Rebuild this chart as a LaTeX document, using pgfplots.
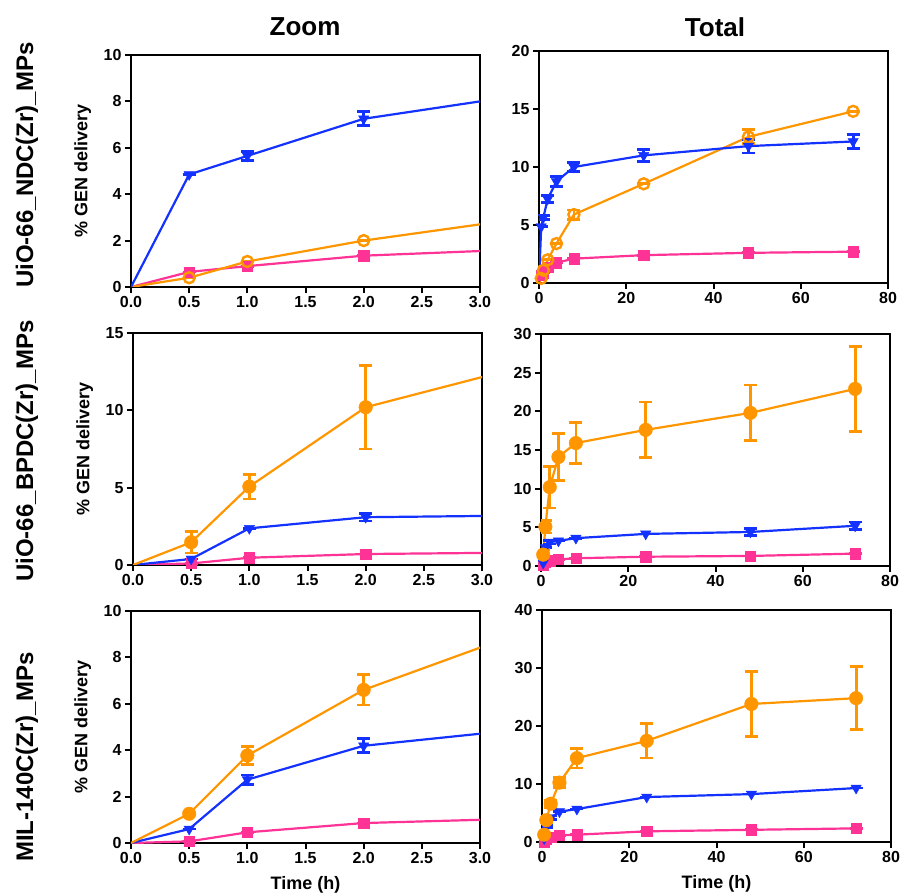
\documentclass[border=0pt]{standalone}
\usepackage{fontspec}
\setmainfont{Liberation Sans}
\usepackage{pgfplots}
\pgfplotsset{compat=1.18}
\definecolor{cblue}{RGB}{20,50,255}
\definecolor{corange}{RGB}{255,150,0}
\definecolor{cpink}{RGB}{255,51,150}
\pgfplotsset{
 panel/.style={scale only axis, anchor=south west, width=349pt, height=232pt,
   axis line style={line width=2.4pt}, tick style={line width=2pt, black},
   tick align=outside, major tick length=6pt, xtick pos=bottom, ytick pos=left,
   ymin=0, tick label style={font=\fontsize{16}{16}\selectfont\bfseries},
   /pgf/number format/assume math mode=true,
   label style={font=\fontsize{18}{18}\selectfont\bfseries}},
 zoomx/.style={xmin=0,xmax=3,xtick={0,0.5,...,3},
   xticklabel style={/pgf/number format/.cd,fixed,fixed zerofill,precision=1}},
 totx/.style={xmin=0,xmax=80,xtick={0,20,...,80}},
 ylab/.style={ylabel={\% GEN delivery}, ylabel style={at={(axis description cs:-0.138,0.5)}, anchor=center}},
 xlab/.style={xlabel={Time (h)}, xlabel style={at={(axis description cs:0.5,-0.18)}, anchor=center}},
 ln/.style={line width=2.2pt, no marks},
 eb/.style={only marks, error bars/y dir=both, error bars/y explicit,
   error bars/error bar style={line width=2.8pt},
   error bars/error mark options={rotate=90, line width=2.8pt, mark size=6.5pt}},
 bM/.style={cblue, mark=triangle*, mark size=6pt, mark options={rotate=180}, eb},
 oO/.style={corange, mark=o, mark size=5.5pt, mark options={line width=2.4pt}, eb},
 oF/.style={corange, mark=*, mark size=6.8pt, eb},
 pM/.style={cpink, mark=square*, mark size=5.2pt, eb},
}
\begin{document}
\begin{tikzpicture}
\path[use as bounding box] (0pt,0pt) rectangle (900pt,895pt);
\node[font=\fontsize{26}{26}\selectfont\bfseries] at (305pt,868pt) {Zoom};
\node[font=\fontsize{26}{26}\selectfont\bfseries] at (715pt,868pt) {Total};
\node[rotate=90,font=\fontsize{24}{24}\selectfont\bfseries] at (27pt,730pt) {UiO-66\_NDC(Zr)\_MPs};
\node[rotate=90,font=\fontsize{24}{24}\selectfont\bfseries] at (27pt,444pt) {UiO-66\_BPDC(Zr)\_MPs};
\node[rotate=90,font=\fontsize{24}{24}\selectfont\bfseries] at (27pt,138pt) {MIL-140C(Zr)\_MPs};

% Row 1 zoom
\begin{axis}[panel, zoomx, ylab, at={(131pt,608pt)}, ymax=10, ytick={0,2,...,10}]
\addplot[cpink, ln] coordinates {(0,0)(0.5,0.65)(1,0.9)(2,1.35)(4,1.75)};
\addplot[corange, ln] coordinates {(0,0)(0.5,0.4)(1,1.1)(2,2.0)(4,3.4)};
\addplot[cblue, ln] coordinates {(0,0)(0.5,4.85)(1,5.65)(2,7.25)(4,8.75)};
\addplot[pM] coordinates {(0.5,0.65)+-(0,0) (1,0.9)+-(0,0) (2,1.35)+-(0,0)};
\addplot[oO] coordinates {(0.5,0.4)+-(0,0) (1,1.1)+-(0,0) (2,2.0)+-(0,0)};
\addplot[bM] coordinates {(0.5,4.85)+-(0,0) (1,5.65)+-(0,0.2) (2,7.25)+-(0,0.3)};
\end{axis}
% Row 1 total
\begin{axis}[panel, totx, at={(539pt,612pt)}, ymax=20, ytick={0,5,...,20}]
\addplot[cpink, ln] coordinates {(0,0)(0.5,0.65)(1,0.9)(2,1.35)(4,1.75)(8,2.1)(24,2.4)(48,2.6)(72,2.7)};
\addplot[corange, ln] coordinates {(0,0)(0.5,0.4)(1,1.1)(2,2.0)(4,3.4)(8,5.9)(24,8.55)(48,12.6)(72,14.8)};
\addplot[cblue, ln] coordinates {(0,0)(0.5,4.85)(1,5.65)(2,7.25)(4,8.75)(8,10.0)(24,11.0)(48,11.8)(72,12.2)};
\addplot[pM] coordinates {(0.5,0.65)+-(0,0) (1,0.9)+-(0,0) (2,1.35)+-(0,0) (4,1.75)+-(0,0) (8,2.1)+-(0,0) (24,2.4)+-(0,0) (48,2.6)+-(0,0) (72,2.7)+-(0,0)};
\addplot[oO] coordinates {(0.5,0.4)+-(0,0) (1,1.1)+-(0,0) (2,2.0)+-(0,0) (4,3.4)+-(0,0) (8,5.9)+-(0,0.4) (24,8.55)+-(0,0) (48,12.6)+-(0,0.6) (72,14.8)+-(0,0)};
\addplot[bM] coordinates {(0.5,4.85)+-(0,0) (1,5.65)+-(0,0.2) (2,7.25)+-(0,0.3) (4,8.75)+-(0,0.4) (8,10.0)+-(0,0.4) (24,11.0)+-(0,0.5) (48,11.8)+-(0,0.6) (72,12.2)+-(0,0.6)};
\end{axis}

% Row 2 zoom
\begin{axis}[panel, zoomx, ylab, at={(133pt,330pt)}, ymax=15, ytick={0,5,...,15}]
\addplot[cpink, ln] coordinates {(0,0)(0.5,0.1)(1,0.47)(2,0.71)(4,0.85)};
\addplot[cblue, ln] coordinates {(0,0)(0.5,0.39)(1,2.37)(2,3.09)(4,3.25)};
\addplot[corange, ln] coordinates {(0,0)(0.5,1.47)(1,5.07)(2,10.2)(4,14.1)};
\addplot[pM] coordinates {(0.5,0.1)+-(0,0) (1,0.47)+-(0,0) (2,0.71)+-(0,0)};
\addplot[bM] coordinates {(0.5,0.39)+-(0,0) (1,2.37)+-(0,0) (2,3.09)+-(0,0.25)};
\addplot[oF] coordinates {(0.5,1.47)+-(0,0.7) (1,5.07)+-(0,0.8) (2,10.2)+-(0,2.7)};
\end{axis}
% Row 2 total
\begin{axis}[panel, totx, at={(541pt,329pt)}, ymax=30, ytick={0,5,...,30}]
\addplot[cpink, ln] coordinates {(0,0)(0.5,0.1)(1,0.47)(2,0.71)(4,0.85)(8,1.0)(24,1.2)(48,1.3)(72,1.6)};
\addplot[cblue, ln] coordinates {(0,0)(0.5,0.39)(1,2.37)(2,3.09)(4,3.25)(8,3.6)(24,4.15)(48,4.4)(72,5.2)};
\addplot[corange, ln] coordinates {(0,0)(0.5,1.47)(1,5.07)(2,10.2)(4,14.1)(8,15.9)(24,17.6)(48,19.8)(72,22.9)};
\addplot[pM] coordinates {(0.5,0.1)+-(0,0) (1,0.47)+-(0,0) (2,0.71)+-(0,0) (4,0.85)+-(0,0) (8,1.0)+-(0,0) (24,1.2)+-(0,0) (48,1.3)+-(0,0) (72,1.6)+-(0,0)};
\addplot[bM] coordinates {(0.5,0.39)+-(0,0) (1,2.37)+-(0,0) (2,3.09)+-(0,0.25) (4,3.25)+-(0,0) (8,3.6)+-(0,0) (24,4.15)+-(0,0) (48,4.4)+-(0,0.5) (72,5.2)+-(0,0.5)};
\addplot[oF] coordinates {(0.5,1.47)+-(0,0.7) (1,5.07)+-(0,0.8) (2,10.2)+-(0,2.7) (4,14.1)+-(0,3.0) (8,15.9)+-(0,2.65) (24,17.6)+-(0,3.6) (48,19.8)+-(0,3.6) (72,22.9)+-(0,5.5)};
\end{axis}

% Row 3 zoom
\begin{axis}[panel, zoomx, ylab, xlab, at={(131pt,52pt)}, ymax=10, ytick={0,2,...,10}]
\addplot[cpink, ln] coordinates {(0,0)(0.5,0.07)(1,0.46)(2,0.86)(4,1.14)};
\addplot[cblue, ln] coordinates {(0,0)(0.5,0.6)(1,2.73)(2,4.19)(4,5.23)};
\addplot[corange, ln] coordinates {(0,0)(0.5,1.26)(1,3.77)(2,6.6)(4,10.24)};
\addplot[pM] coordinates {(0.5,0.07)+-(0,0) (1,0.46)+-(0,0) (2,0.86)+-(0,0)};
\addplot[bM] coordinates {(0.5,0.6)+-(0,0) (1,2.73)+-(0,0.2) (2,4.19)+-(0,0.3)};
\addplot[oF] coordinates {(0.5,1.26)+-(0,0) (1,3.77)+-(0,0.4) (2,6.6)+-(0,0.65)};
\end{axis}
% Row 3 total
\begin{axis}[panel, totx, xlab, at={(542pt,53pt)}, ymax=40, ytick={0,10,...,40}]
\addplot[cpink, ln] coordinates {(0,0)(0.5,0.07)(1,0.46)(2,0.86)(4,1.14)(8,1.26)(24,1.84)(48,2.1)(72,2.35)};
\addplot[cblue, ln] coordinates {(0,0)(0.5,0.6)(1,2.73)(2,4.19)(4,5.23)(8,5.68)(24,7.75)(48,8.26)(72,9.3)};
\addplot[corange, ln] coordinates {(0,0)(0.5,1.26)(1,3.77)(2,6.6)(4,10.24)(8,14.46)(24,17.44)(48,23.8)(72,24.8)};
\addplot[pM] coordinates {(0.5,0.07)+-(0,0) (1,0.46)+-(0,0) (2,0.86)+-(0,0) (4,1.14)+-(0,0) (8,1.26)+-(0,0) (24,1.84)+-(0,0) (48,2.1)+-(0,0) (72,2.35)+-(0,0)};
\addplot[bM] coordinates {(0.5,0.6)+-(0,0) (1,2.73)+-(0,0.2) (2,4.19)+-(0,0.3) (4,5.23)+-(0,0) (8,5.68)+-(0,0) (24,7.75)+-(0,0) (48,8.26)+-(0,0) (72,9.3)+-(0,0)};
\addplot[oF] coordinates {(0.5,1.26)+-(0,0) (1,3.77)+-(0,0.4) (2,6.6)+-(0,0.65) (4,10.24)+-(0,0.9) (8,14.46)+-(0,1.7) (24,17.44)+-(0,2.95) (48,23.8)+-(0,5.6) (72,24.8)+-(0,5.4)};
\end{axis}
\end{tikzpicture}
\end{document}
